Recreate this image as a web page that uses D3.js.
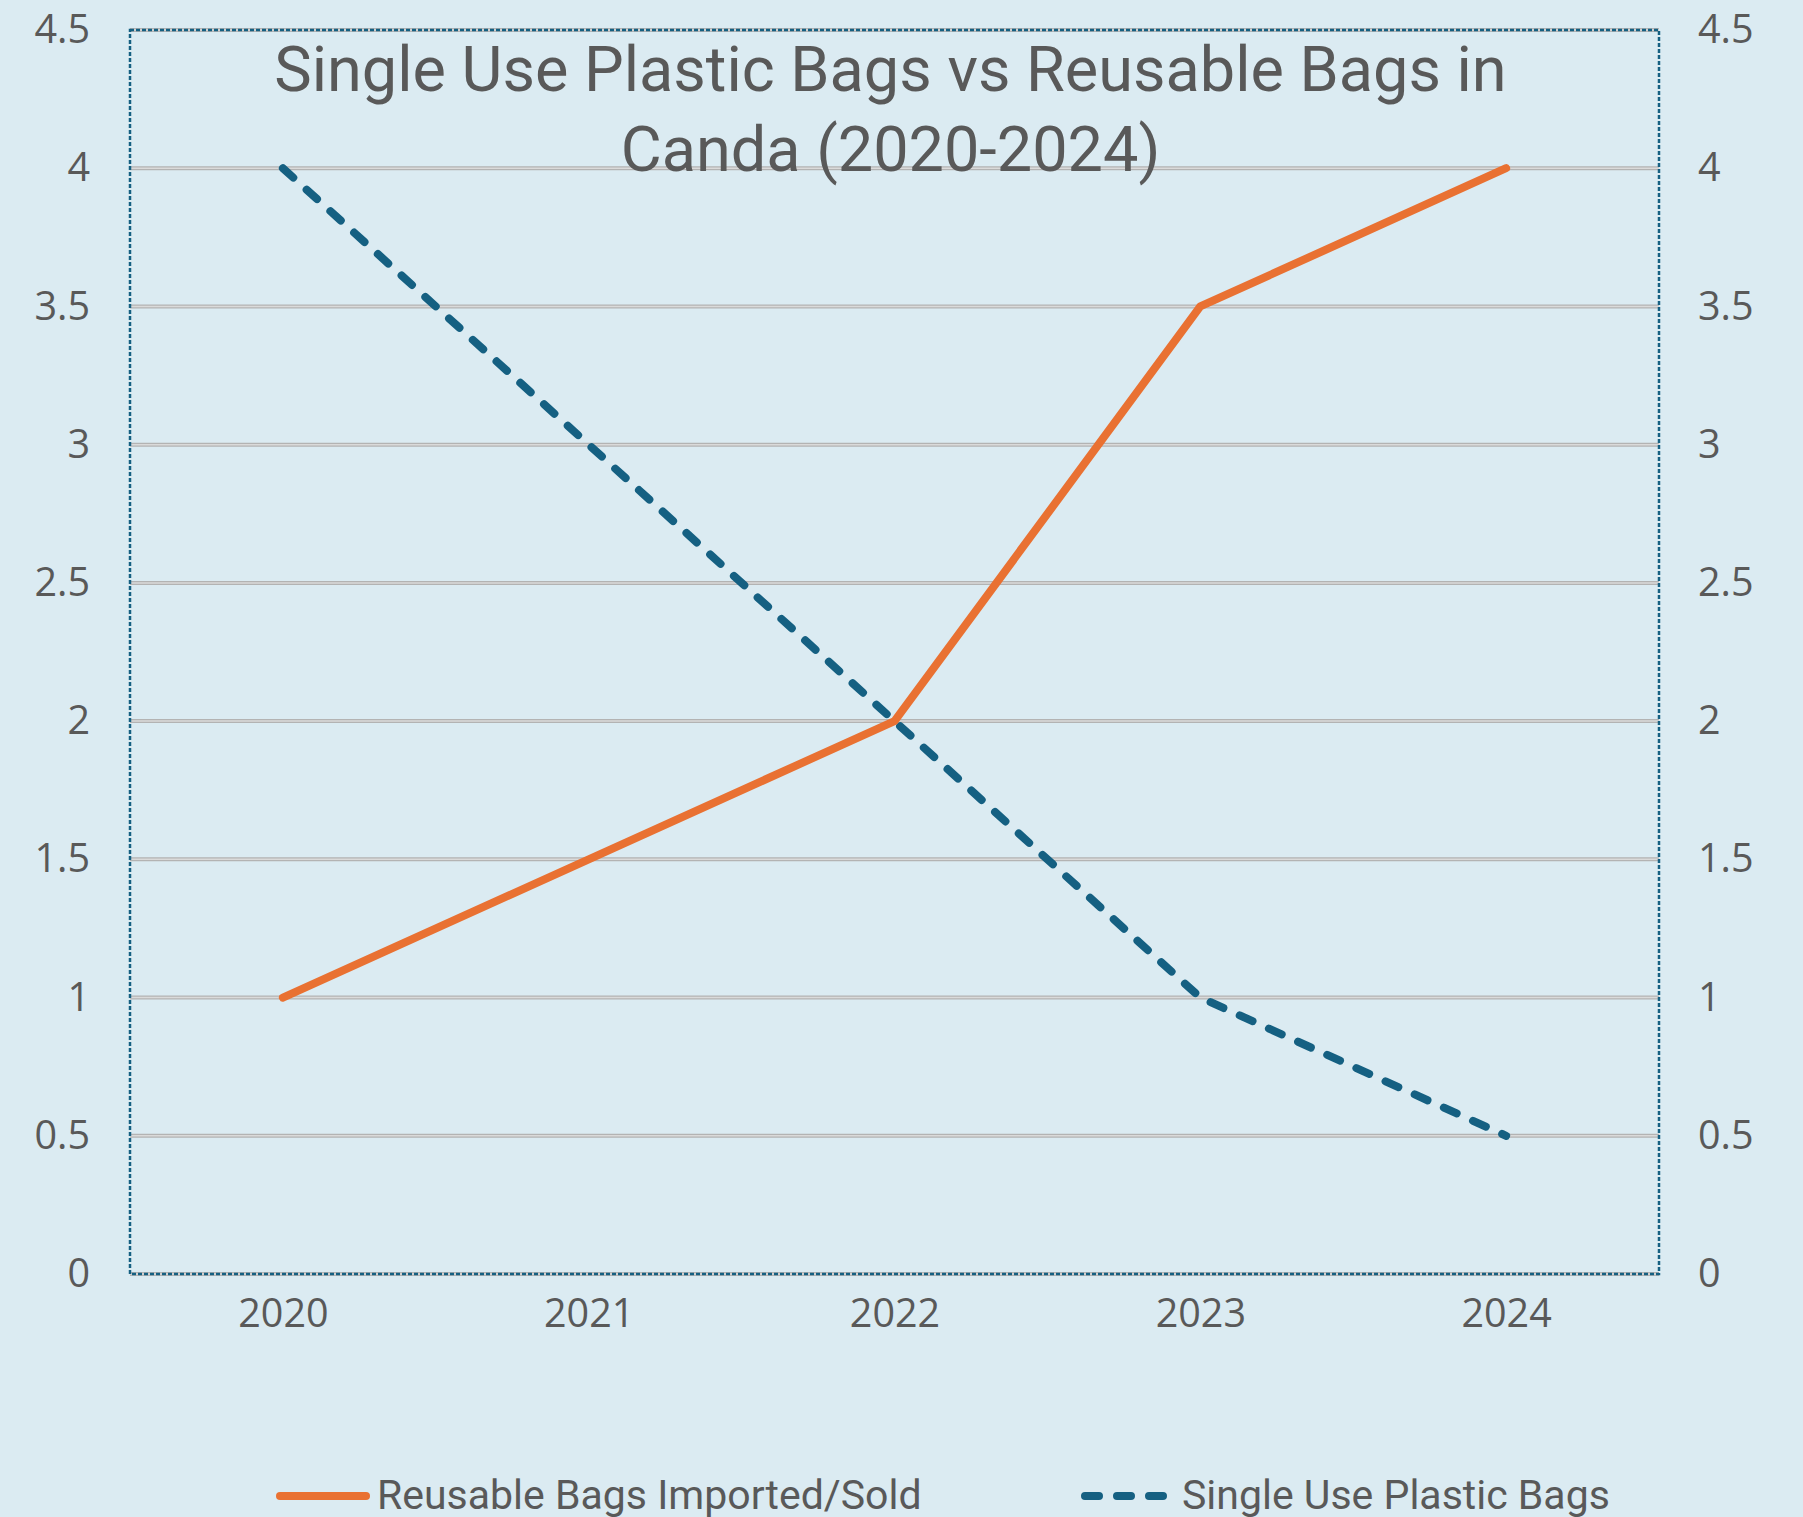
<!DOCTYPE html>
<html>
<head>
<meta charset="utf-8">
<script src="https://cdn.jsdelivr.net/npm/d3@7"></script>
<style>
  body { margin: 0; background: #dbebf2; }
  svg { display: block; }
</style>
</head>
<body>
<svg id="chart" width="1803" height="1517"></svg>
<script>
const years = ["2020", "2021", "2022", "2023", "2024"];
const reusable = [1, 1.5, 2, 3.5, 4];
const singleUse = [4, 3, 2, 1, 0.5];
const yTicks = [0, 0.5, 1, 1.5, 2, 2.5, 3, 3.5, 4, 4.5];
const titleLines = ["Single Use Plastic Bags vs Reusable Bags in", "Canda (2020-2024)"];
const seriesNames = ["Reusable Bags Imported/Sold", "Single Use Plastic Bags"];

const svg = d3.select("#chart");
const width = +svg.attr("width");
const height = +svg.attr("height");

const margin = { top: 30, right: 144, bottom: 243, left: 130 };
const innerWidth = width - margin.left - margin.right;
const innerHeight = height - margin.top - margin.bottom;

const blue = "#156082";
const orange = "#e97132";
const textColor = "#595959";
const narrow = "Roboto, sans-serif";
const tickFont = "'Open Sans', sans-serif";

svg.append("rect").attr("width", width).attr("height", height).attr("fill", "#dbebf2");

const xScale = d3.scalePoint().domain(years).range([0, innerWidth]).padding(0.5);
const yScale = d3.scaleLinear().domain([0, 4.5]).range([innerHeight, 0]);

const g = svg.append("g").attr("transform", `translate(${margin.left},${margin.top})`);

// gridlines (double look)
const grid = g.append("g");
grid.selectAll("line.outer")
  .data(yTicks)
  .join("line")
  .attr("class", "outer")
  .attr("x1", 0).attr("x2", innerWidth)
  .attr("y1", (d) => yScale(d)).attr("y2", (d) => yScale(d))
  .attr("stroke", "#b3b3b3").attr("stroke-width", 4);
grid.selectAll("line.inner")
  .data(yTicks)
  .join("line")
  .attr("class", "inner")
  .attr("x1", 0).attr("x2", innerWidth)
  .attr("y1", (d) => yScale(d)).attr("y2", (d) => yScale(d))
  .attr("stroke", "#dadada").attr("stroke-width", 1.5);

// plot border (dashed)
g.append("rect")
  .attr("x", 0).attr("y", 0)
  .attr("width", innerWidth).attr("height", innerHeight)
  .attr("fill", "none")
  .attr("stroke", blue)
  .attr("stroke-width", 2.5)
  .attr("stroke-dasharray", "4,2");

// axes
const yLeft = d3.axisLeft(yScale).tickValues(yTicks).tickSize(0).tickPadding(40).tickFormat(d3.format("~g"));
const yRight = d3.axisRight(yScale).tickValues(yTicks).tickSize(0).tickPadding(39).tickFormat(d3.format("~g"));
const xAxis = d3.axisBottom(xScale).tickSize(0).tickPadding(25);

const styleAxis = (sel) => {
  sel.select(".domain").remove();
  sel.selectAll("text")
    .attr("fill", textColor)
    .attr("font-family", tickFont)
    .attr("font-size", 39.5);
};

g.append("g").call(yLeft).call(styleAxis);
g.append("g").attr("transform", `translate(${innerWidth},0)`).call(yRight).call(styleAxis);
g.append("g").attr("transform", `translate(0,${innerHeight})`).call(xAxis).call(styleAxis);

// lines
const line = (vals) => d3.line()
  .x((d, i) => xScale(years[i]))
  .y((d) => yScale(d))(vals);

g.append("path")
  .attr("d", line(singleUse))
  .attr("fill", "none")
  .attr("stroke", blue)
  .attr("stroke-width", 8)
  .attr("stroke-linecap", "round")
  .attr("stroke-linejoin", "round")
  .attr("stroke-dasharray", "14,18");

g.append("path")
  .attr("d", line(reusable))
  .attr("fill", "none")
  .attr("stroke", orange)
  .attr("stroke-width", 8)
  .attr("stroke-linecap", "round")
  .attr("stroke-linejoin", "round");

// title
svg.append("text")
  .attr("x", margin.left + innerWidth / 2 - 4)
  .attr("y", 91)
  .attr("text-anchor", "middle")
  .attr("fill", textColor)
  .attr("font-family", narrow)
  .attr("font-size", 63)
  .selectAll("tspan")
  .data(titleLines)
  .join("tspan")
  .attr("x", margin.left + innerWidth / 2 - 4)
  .attr("dy", (d, i) => (i === 0 ? 0 : 80))
  .text((d) => d);

// legend
const legend = svg.append("g").attr("transform", "translate(0,1496)");
const legendItems = [
  { name: seriesNames[0], color: orange, dash: null, x: 276 },
  { name: seriesNames[1], color: blue, dash: "14,18", x: 1081 }
];
legendItems.forEach((item) => {
  const li = legend.append("g").attr("transform", `translate(${item.x},0)`);
  li.append("line")
    .attr("x1", 4).attr("x2", 90)
    .attr("stroke", item.color)
    .attr("stroke-width", 8)
    .attr("stroke-linecap", "round")
    .attr("stroke-dasharray", item.dash);
  li.append("text")
    .attr("x", 101)
    .attr("y", 13)
    .attr("fill", textColor)
    .attr("font-family", narrow)
    .attr("font-size", 41)
    .text(item.name);
});
</script>
</body>
</html>
